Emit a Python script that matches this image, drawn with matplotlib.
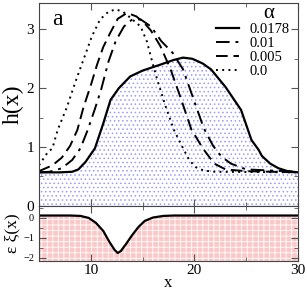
import matplotlib
matplotlib.use("Agg")
import matplotlib.pyplot as plt
from matplotlib.ticker import MultipleLocator

plt.rcParams['font.family'] = ['Liberation Serif', 'DejaVu Serif']
plt.rcParams['hatch.linewidth'] = 0.6

# h(x) profiles
x_a0178 = [5, 7, 8.2, 8.8, 9.5, 10.4, 11.2, 11.9, 12.7, 13.8, 15, 16.7, 18, 18.9,
           19.8, 20.8, 21.6, 23, 24.5, 25.5, 26.2, 26.5, 27.3, 28.1, 29, 30]
h_a0178 = [0.57, 0.57, 0.58, 0.62, 0.75, 0.98, 1.4, 1.8, 2.0, 2.2, 2.3, 2.4, 2.48, 2.52,
           2.5, 2.42, 2.32, 2.02, 1.63, 1.12, 0.95, 0.85, 0.72, 0.64, 0.59, 0.57]

x_a01 = [5, 6, 7.2, 8.2, 9, 9.7, 10.4, 11, 11.7, 12.4, 13.2, 14.0, 14.8, 15.8,
         16.8, 17.9, 18.9, 19.9, 20.9, 21.8, 22.6, 23.5, 25, 30]
h_a01 = [0.57, 0.58, 0.64, 0.78, 0.98, 1.29, 1.65, 1.98, 2.45, 2.8, 3.05, 3.17, 3.17, 3.05,
         2.8, 2.6, 2.32, 1.82, 1.32, 1.02, 0.84, 0.72, 0.62, 0.58]

x_a005 = [5, 6.3, 7.2, 8, 8.7, 9.3, 10, 10.6, 11.2, 11.9, 12.6, 13.5, 14.4, 15.2,
          15.8, 16.7, 17.7, 18.7, 19.7, 20.8, 21.9, 23, 25, 30]
h_a005 = [0.59, 0.69, 0.82, 1.02, 1.29, 1.68, 2.05, 2.4, 2.7, 2.95, 3.18, 3.28, 3.22, 3.1,
          2.98, 2.72, 2.32, 1.82, 1.3, 0.98, 0.72, 0.62, 0.59, 0.57]

x_a0 = [5, 5.8, 6.3, 6.8, 7.7, 8.5, 9.3, 10.1, 10.9, 11.7, 12.4, 13.1, 13.8, 14.8,
        15.4, 16.0, 16.4, 17.2, 18, 18.9, 19.5, 20.1, 20.9, 22, 30]
h_a0 = [0.69, 0.9, 0.98, 1.29, 1.68, 2.1, 2.49, 2.88, 3.17, 3.3, 3.34, 3.3, 3.2, 3.05,
        2.8, 2.4, 2.15, 1.7, 1.3, 0.98, 0.78, 0.66, 0.6, 0.58, 0.57]

# substrate epsilon*xi(x)
x_sub = [5, 8, 9, 9.8, 10.5, 11.2, 11.8, 12.3, 12.6, 12.9, 13.4, 14, 14.6, 15.2, 16, 17, 18, 30]
xi_sub = [0.12, 0.12, 0.1, 0.0, -0.25, -0.65, -1.2, -1.6, -1.75, -1.65, -1.3, -0.85,
          -0.45, -0.15, 0.02, 0.1, 0.12, 0.12]

fig = plt.figure(figsize=(3.07, 2.90), dpi=100)
ax = fig.add_axes([0.127, 0.290, 0.844, 0.700])
ax2 = fig.add_axes([0.127, 0.100, 0.844, 0.190], sharex=ax)

ax.fill_between(x_a0178, h_a0178, 0, facecolor='white', edgecolor='#9a9aff',
                hatch='....', linewidth=0)
ax.plot(x_a0178, h_a0178, color='black', lw=1.6, ls='-', label='0.0178')
ax.plot(x_a01, h_a01, color='black', lw=1.4, ls=(0, (7, 3, 1.5, 3)), label='0.01')
ax.plot(x_a005, h_a005, color='black', lw=1.4, ls=(0, (6, 3)), label='0.005')
ax.plot(x_a0, h_a0, color='black', lw=1.4, ls=(0, (1, 2.2)), label='0.0')

ax.set_xlim(5, 30)
ax.set_ylim(0, 3.45)
ax.set_ylabel('h(x)', fontsize=17, labelpad=2)
ax.text(0.05, 0.97, 'a', transform=ax.transAxes, fontsize=17, va='top', ha='left')
ax.text(0.885, 0.995, 'α', transform=ax.transAxes, fontsize=15, va='top', ha='center')
ax.legend(loc='upper right', frameon=False, fontsize=10.5,
          handlelength=1.6, handletextpad=0.7, labelspacing=0.05,
          borderaxespad=0.0, bbox_to_anchor=(0.99, 0.93))

ax2.fill_between(x_sub, xi_sub, -2.15, facecolor='#fbc8c8', edgecolor='white',
                 hatch='+++', linewidth=0)
ax2.plot(x_sub, xi_sub, color='black', lw=1.6)
ax2.set_ylim(-2.15, 0.6)
ax2.set_ylabel('ε ξ(x)', fontsize=12.5, labelpad=2)
ax2.set_xlabel('x', fontsize=12, labelpad=-1)

for a in (ax, ax2):
    a.xaxis.set_major_locator(MultipleLocator(10))
    a.xaxis.set_minor_locator(MultipleLocator(5))
    a.tick_params(which='both', direction='in', top=True, right=True)
    a.tick_params(which='major', length=5, color='#555555')
    a.tick_params(which='minor', length=3, color='#555555')
    for s in a.spines.values():
        s.set_color('#444444')

ax.yaxis.set_major_locator(MultipleLocator(1))
ax.yaxis.set_minor_locator(MultipleLocator(0.5))
ax.tick_params(labelbottom=False, labelsize=11)
ax2.yaxis.set_major_locator(MultipleLocator(1))
ax2.yaxis.set_minor_locator(MultipleLocator(0.5))
ax2.tick_params(axis='y', labelsize=7.5)
ax2.tick_params(axis='x', labelsize=11, pad=2)

fig.savefig('out.png', dpi=100)
